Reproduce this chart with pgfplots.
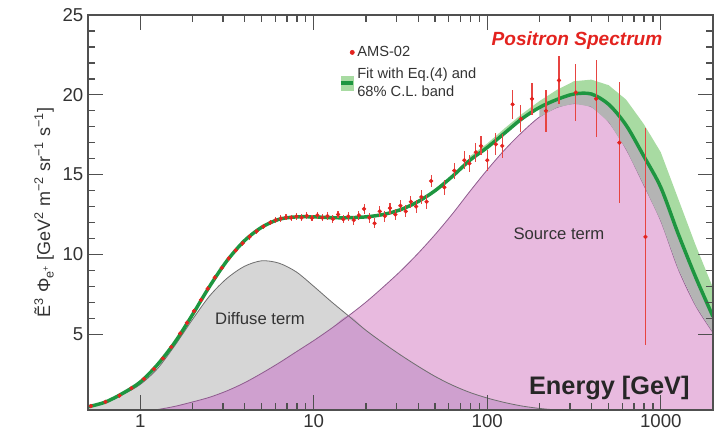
\documentclass[border=0pt]{standalone}
\usepackage{fontspec}
\setmainfont{Liberation Sans}
\setsansfont{Liberation Sans}
\usepackage{pgfplots}
\pgfplotsset{compat=1.18}
\usepackage{pgfplotstable}

\definecolor{diffgrey}{HTML}{D6D6D6}
\definecolor{srcpink}{HTML}{E8BADF}
\definecolor{overlap}{HTML}{CFA0CF}
\definecolor{bandgreen}{HTML}{A8DBA2}
\definecolor{bandgrey}{HTML}{B4B4B4}
\definecolor{fitgreen}{HTML}{1E9640}
\definecolor{amsred}{HTML}{E3231F}
\definecolor{difline}{HTML}{6E6E6E}
\definecolor{srcline}{HTML}{8E5C8E}
\definecolor{axgrey}{HTML}{505050}
\definecolor{txt}{HTML}{333333}

% fit components
\pgfplotstableread{
x      T      D     S      M
0.5    0.45   0.43  0.02   0.02
0.631  0.75   0.71  0.04   0.04
0.794  1.30   1.22  0.08   0.08
1      2.00   1.85  0.15   0.15
1.259  3.10   2.85  0.28   0.28
1.585  4.50   4.30  0.48   0.48
1.995  6.20   5.90  0.75   0.75
2.512  8.00   7.40  1.05   1.05
3.162  9.60   8.50  1.45   1.45
3.981  10.85  9.25  1.95   1.95
5.012  11.70  9.60  2.55   2.55
6.310  12.20  9.45  3.20   3.20
7.943  12.35  8.90  3.90   3.90
10     12.35  8.00  4.60   4.60
12.59  12.30  7.05  5.35   5.35
15.85  12.30  6.15  6.15   6.15
19.95  12.35  5.25  7.00   5.25
25.12  12.50  4.45  7.95   4.45
31.62  12.80  3.70  8.95   3.70
39.81  13.30  3.00  10.05  3.00
50.12  14.00  2.35  11.25  2.35
63.10  14.90  1.80  12.55  1.80
79.43  15.90  1.35  13.95  1.35
100    16.70  1.00  15.30  1.00
125.9  17.60  0.72  16.55  0.72
158.5  18.50  0.50  17.65  0.50
199.5  19.20  0.35  18.60  0.35
251.2  19.70  0.25  19.20  0.25
316.2  20.05  0.17  19.45  0.17
398.1  20.05  0.11  19.25  0.11
501.2  19.40  0.07  18.30  0.07
631.0  18.10  0.05  16.60  0.05
794.3  16.20  0.03  14.40  0.03
1000   14.20  0.02  12.10  0.02
1259   11.30  0.01  9.10   0.01
1585   8.60   0.01  6.80   0.01
2000   6.10   0.00  5.10   0.00
}\curves

% AMS-02 positron points
\pgfplotstableread{
x     y      ey
0.52  0.50   0.03
0.63  0.76   0.04
0.76  1.15   0.05
0.89  1.62   0.06
1.05  2.20   0.07
1.20  2.82   0.08
1.35  3.48   0.09
1.51  4.20   0.10
1.70  5.05   0.11
1.86  5.72   0.12
2.04  6.45   0.12
2.24  7.15   0.13
2.45  7.85   0.14
2.69  8.55   0.14
2.95  9.15   0.15
3.24  9.75   0.15
3.55  10.25  0.16
3.89  10.70  0.16
4.27  11.10  0.17
4.68  11.45  0.17
5.13  11.75  0.18
5.62  12.00  0.18
6.03  12.15  0.18
6.46  12.25  0.19
6.92  12.32  0.19
7.41  12.30  0.19
7.94  12.38  0.20
8.51  12.30  0.20
9.12  12.42  0.21
9.77  12.28  0.21
10.5  12.45  0.22
11.2  12.30  0.22
12.0  12.40  0.23
12.9  12.22  0.24
13.8  12.50  0.25
14.8  12.20  0.26
15.8  12.38  0.27
17.0  12.15  0.28
18.2  12.45  0.29
19.5  12.85  0.30
20.9  12.30  0.31
22.4  11.95  0.32
24.0  12.70  0.33
25.7  12.40  0.34
27.5  12.90  0.35
29.5  12.50  0.36
31.6  13.05  0.37
33.9  12.70  0.38
36.3  13.30  0.39
38.9  13.00  0.40
41.7  13.60  0.42
44.7  13.30  0.44
47.5  14.60  0.40
56.6  14.20  0.45
64.6  15.25  0.50
73.8  15.90  0.55
78.9  15.70  0.55
86.0  16.40  0.60
92.0  16.80  0.60
100   15.90  0.65
112   16.90  0.70
122   16.80  0.75
140   19.40  0.90
156   18.50  0.85
181   19.75  1.00
218   19.00  1.30
259   20.90  1.50
324   20.15  1.80
424   19.75  2.40
577   17.00  3.80
816   11.10  6.80
}\amsdata

\begin{document}
\begin{tikzpicture}
\useasboundingbox (-66pt,-20.25pt) rectangle (477pt,307.5pt);
\begin{axis}[
    scale only axis,
    width=468.75pt, height=296.25pt,
    xmode=log,
    xmin=0.5, xmax=2000,
    ymin=0.25, ymax=25,
    xtick={1,10,100,1000},
    ytick={5,10,15,20,25},
    minor y tick num=4,
    log ticks with fixed point,
    /pgf/number format/1000 sep={},
    /pgf/number format/assume math mode=true,
    tick label style={font=\fontsize{14}{16}\selectfont, text=txt},
    tick align=inside,
    major tick length=11pt,
    minor tick length=5.5pt,
    every tick/.style={axgrey, line width=1pt},
    axis line style={axgrey, line width=1.2pt},
    axis on top,
    ylabel={Ẽ\textsuperscript{3} Φ\textsubscript{e\textsuperscript{+}} [GeV\textsuperscript{2} m\textsuperscript{−2} sr\textsuperscript{−1} s\textsuperscript{−1}]},
    ylabel style={at={(axis description cs:-0.0704,0.5)}, anchor=center,
                  font=\fontsize{13.5}{15}\selectfont, text=txt},
    legend cell align=left,
    legend style={at={(0.395,0.935)}, anchor=north west, draw=none, fill=none,
                  font=\fontsize{11}{13.5}\selectfont, text=txt, align=left,
                  row sep=3pt},
]
% legend entries
\addlegendimage{only marks, mark=*, mark size=1.6pt, color=amsred}
\addlegendentry{AMS-02}
\addlegendimage{legend image code/.code={
    \fill[bandgreen] (0pt,-5pt) rectangle (9pt,5pt);
    \draw[fitgreen, line width=2.6pt] (0pt,0pt) -- (9pt,0pt);}}
\addlegendentry{Fit with Eq.(4) and\\68\% C.L. band}

% filled components
\addplot[forget plot, smooth, fill=diffgrey, draw=none] table[x=x, y=D] {\curves} \closedcycle;
\addplot[forget plot, smooth, fill=srcpink, draw=none] table[x=x, y=S] {\curves} \closedcycle;
\addplot[forget plot, smooth, fill=overlap, draw=none] table[x=x, y=M] {\curves} \closedcycle;
\addplot[forget plot, smooth, difline, line width=0.6pt] table[x=x, y=D] {\curves};
\addplot[forget plot, smooth, srcline, line width=0.6pt] table[x=x, y=S] {\curves};

% 68% band: green above the fit, grey below
\addplot[forget plot, fill=bandgreen, draw=none] coordinates {
  (79.43,16.15) (100,16.95) (125.9,17.90) (158.5,18.80) (199.5,19.60)
  (251.2,20.30) (316.2,20.85) (398.1,20.95) (501.2,20.60) (631.0,19.70)
  (794.3,18.20) (1000,16.40) (1259,13.50) (1585,10.60) (2000,7.90)
  (2000,6.10) (1585,8.60) (1259,11.30) (1000,14.20) (794.3,16.20)
  (631.0,18.10) (501.2,19.40) (398.1,20.05) (316.2,20.05) (251.2,19.70)
  (199.5,19.20) (158.5,18.50) (125.9,17.60) (100,16.70) (79.43,15.90)};
\addplot[forget plot, fill=bandgrey, draw=none] coordinates {
  (199.5,19.20) (251.2,19.70) (316.2,20.05) (398.1,20.05) (501.2,19.40)
  (631.0,18.10) (794.3,16.20) (1000,14.20) (1259,11.30) (1585,8.60) (2000,6.10)
  (2000,5.10) (1585,6.80) (1259,9.10) (1000,12.10) (794.3,14.40) (631.0,16.60)
  (501.2,18.30) (398.1,19.25) (316.2,19.45) (251.2,19.20) (199.5,18.60)};

% total fit
\addplot[forget plot, fitgreen, line width=2.6pt, smooth] table[x=x, y=T] {\curves};

% data
\addplot[forget plot, only marks, mark=*, mark size=1.4pt, color=amsred,
    error bars/.cd, y dir=both, y explicit, error mark=none,
    error bar style={line width=0.8pt, amsred!85}]
    table[x=x, y=y, y error=ey] {\amsdata};

\node[text=amsred, font=\fontsize{14.3}{16}\selectfont\bfseries\itshape]
    at (axis cs:329,23.4) {Positron Spectrum};
\node[text=txt, font=\fontsize{12.5}{14}\selectfont] at (axis cs:4.9,6.0) {Diffuse term};
\node[text=txt, font=\fontsize{12.5}{14}\selectfont] at (axis cs:259,11.3) {Source term};
\node[text=black!85, font=\fontsize{19}{21}\selectfont\bfseries] at (axis cs:505,1.6) {Energy [GeV]};
\end{axis}
\end{tikzpicture}
\end{document}
